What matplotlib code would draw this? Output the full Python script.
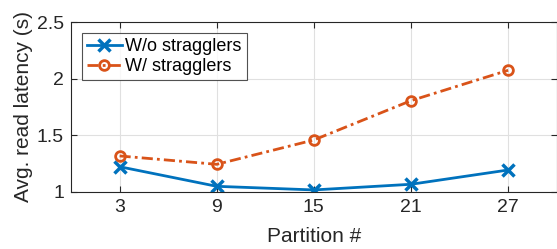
import matplotlib.pyplot as plt

partitions = [3, 9, 15, 21, 27]
no_stragglers = [1.223, 1.05, 1.018, 1.068, 1.194]
with_stragglers = [1.318, 1.244, 1.459, 1.806, 2.074]

plt.rcParams['font.family'] = ['Liberation Sans', 'DejaVu Sans']

fig = plt.figure(figsize=(5.57, 2.49), dpi=100)
ax = fig.add_axes([0.1275, 0.229, 0.872, 0.6826])

ax.plot(partitions, no_stragglers, color='#0072BD', lw=2, marker='x', ms=8, mew=2.5,
        label='W/o stragglers')
ax.plot(partitions, with_stragglers, color='#D95319', lw=2, ls=(0, (4, 1.5, 1, 1.5)),
        marker='o', ms=7, mew=2, mfc='none', label='W/ stragglers')

ax.set_xlim(0, 30)
ax.set_ylim(1, 2.5)
ax.set_xticks(partitions)
ax.set_yticks([1, 1.5, 2, 2.5])
ax.set_yticklabels(['1', '1.5', '2', '2.5'])
ax.grid(True, color='#e0e0e0', lw=0.8)
ax.set_axisbelow(True)
ax.tick_params(direction='in', top=True, right=True, labelsize=14, colors='#262626',
               length=4, pad=5)
for s in ax.spines.values():
    s.set_color('#262626')
    s.set_linewidth(0.8)

ax.set_xlabel('Partition #', fontsize=15, color='#262626', labelpad=8)
ax.set_ylabel('Avg. read latency (s)', fontsize=15, color='#262626', labelpad=3)

leg = ax.legend(loc='upper left', fontsize=13, frameon=True, fancybox=False,
                edgecolor='#262626', handlelength=1.9, borderpad=0.3,
                labelspacing=0.15, handletextpad=0.2, borderaxespad=0.6)
leg.get_frame().set_linewidth(0.8)

plt.savefig('out.png', dpi=100)
plt.close()
